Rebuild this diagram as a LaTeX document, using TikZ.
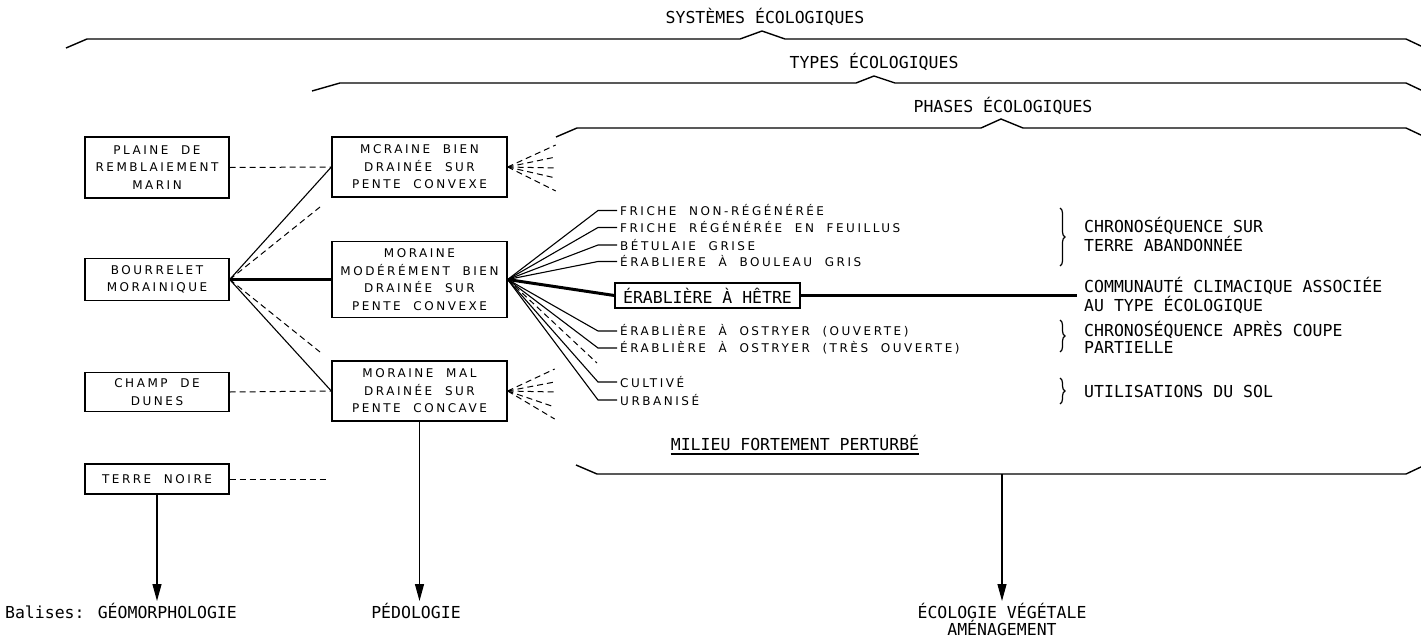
\documentclass[tikz,border=0pt]{standalone}
\usepackage{fontspec}
\setmainfont{DejaVu Sans}
\newfontfamily\plotfont{DejaVu Sans}[LetterSpace=21, WordSpace=2]
\newfontfamily\plotmono{DejaVu Sans Mono}
\usetikzlibrary{arrows.meta,decorations.pathreplacing}

\begin{document}
\begin{tikzpicture}[
		x=1pt, y=-1pt,
		boite/.style={draw, line width=1.3pt, rectangle, align=center, inner sep=0pt, font=\plotfont\fontsize{12}{17.5}\selectfont},
		gauche/.style={boite, minimum width=144pt},
		centre/.style={boite, minimum width=175pt},
		phase/.style={anchor=west, inner sep=3pt, font=\plotfont\fontsize{12}{17.5}\selectfont},
		note/.style={anchor=west, align=left, inner sep=0pt, font=\plotmono\fontsize{16.5}{17}\selectfont},
		titre/.style={inner sep=0pt, align=center, font=\plotmono\fontsize{16.5}{17}\selectfont},
		lien/.style={line width=1.1pt},
		fort/.style={line width=3pt},
		tiret/.style={line width=1pt, dash pattern=on 6pt off 4pt},
		fleche/.style={line width=1.2pt, -{Triangle[length=17pt,width=9pt]}},
		accolade/.style={line width=1.2pt, decorate, decoration={brace, amplitude=5pt}}
		]
		
		\useasboundingbox (0,0) rectangle (1421,640);
		
		\node[titre] (systemes) at (765,17) {SYSTÈMES ÉCOLOGIQUES};
		\node[titre] (types) at (874,62) {TYPES ÉCOLOGIQUES};
		\node[titre] (phases) at (1003,106) {PHASES ÉCOLOGIQUES};
		
		\draw[line width=1.4pt] (66,48) -- (87,39) -- (740,39) -- (762,31) -- (785,39) -- (1406,39) -- (1423,47);
		\draw[line width=1.4pt] (312,91) -- (340,83) -- (856,83) -- (874,76) -- (895,83) -- (1406,83) -- (1423,91);
		\draw[line width=1.4pt] (556,137) -- (577,128) -- (981,128) -- (1001,119) -- (1023,128) -- (1406,128) -- (1423,136);
		\draw[line width=1.4pt] (576,465) -- (597,474) -- (1406,474) -- (1423,466);
		
		\node[gauche, minimum height=61pt] (plaine) at (157,167.5) {PLAINE DE\\REMBLAIEMENT\\MARIN};
		\node[gauche, minimum height=42pt] (bourrelet) at (157,279.5) {BOURRELET\\MORAINIQUE};
		\node[gauche, minimum height=39pt] (champ) at (157,392) {CHAMP DE\\DUNES};
		\node[gauche, minimum height=30pt] (terre) at (157,479) {TERRE NOIRE};
		
		\node[centre, minimum height=60pt] (mcraine) at (419.5,167) {MCRAINE BIEN\\DRAINÉE SUR\\PENTE CONVEXE};
		\node[centre, minimum height=76pt] (moderement) at (419.5,279.5) {MORAINE\\MODÉRÉMENT BIEN\\DRAINÉE SUR\\PENTE CONVEXE};
		\node[centre, minimum height=60pt] (mal) at (419.5,391) {MORAINE MAL\\DRAINÉE SUR\\PENTE CONCAVE};
		
		\node[phase] (f1) at (617,210.5) {FRICHE NON-RÉGÉNÉRÉE};
		\node[phase] (f2) at (617,227.5) {FRICHE RÉGÉNÉRÉE EN FEUILLUS};
		\node[phase] (f3) at (617,245) {BÉTULAIE GRISE};
		\node[phase] (f4) at (617,261.5) {ÉRABLIERE À BOULEAU GRIS};
		\node[boite, font=\plotmono\fontsize{16.5}{17}\selectfont, minimum width=185pt, minimum height=25pt] (hetre) at (707.5,295.5) {ÉRABLIÈRE À HÊTRE};
		\node[phase] (o1) at (617,331) {ÉRABLIÈRE À OSTRYER (OUVERTE)};
		\node[phase] (o2) at (617,348) {ÉRABLIÈRE À OSTRYER (TRÈS OUVERTE)};
		\node[phase] (c1) at (617,382) {CULTIVÉ};
		\node[phase] (u1) at (617,400) {URBANISÉ};
		
		\node[note] (abandon) at (1084,234.5) {CHRONOSÉQUENCE SUR\\TERRE ABANDONNÉE};
		\node[note, inner xsep=7pt] (climax) at (1077,295.5) {COMMUNAUTÉ CLIMACIQUE ASSOCIÉE\\AU TYPE ÉCOLOGIQUE};
		\node[note] (coupe) at (1084,337.5) {CHRONOSÉQUENCE APRÈS COUPE\\PARTIELLE};
		\node[note] (sol) at (1084,391) {UTILISATIONS DU SOL};
		
		\node[titre] (perturbe) at (795,443) {MILIEU FORTEMENT PERTURBÉ};
		\draw[lien] ([yshift=-3pt]perturbe.south west) -- ([yshift=-3pt]perturbe.south east);
		
		\node[titre, anchor=north, inner ysep=2pt] (geo) at (121,601) {Balises: GÉOMORPHOLOGIE};
		\node[titre, anchor=north, inner ysep=2pt] (pedo) at (416,601) {PÉDOLOGIE};
		\node[titre, anchor=north, inner ysep=2pt] (eco) at (1002,601) {ÉCOLOGIE VÉGÉTALE\\AMÉNAGEMENT};
		
		\coordinate (haut) at (320,207);
		\coordinate (bas) at (320,352);
		\coordinate (noire) at (326,479);
		\coordinate (ostryer) at (597,363);
		\coordinate (phasebas) at (1002,474);
		
		\draw[tiret] (plaine.east) -- (mcraine.west);
		\draw[tiret] (champ.east) -- (mal.west);
		\draw[tiret] (terre.east) -- (noire);
		\draw[lien] (bourrelet.east) -- (mcraine.west);
		\draw[lien] (bourrelet.east) -- (mal.west);
		\draw[tiret] (bourrelet.east) -- (haut);
		\draw[tiret] (bourrelet.east) -- (bas);
		\draw[fort] (bourrelet.east) -- (moderement.west);
		
		\foreach \dy in {-22,-10,1,11,24}
		\draw[tiret] (mcraine.east) -- ++(48,\dy);
		\foreach \dy in {-22,-9,1,16,28}
		\draw[tiret] (mal.east) -- ++(47,\dy);
		
		\foreach \n in {f1,f2,f3,f4,o1,o2,c1,u1}
		\draw[lien] (moderement.east) -- ([xshift=-19pt]\n.west) -- (\n.west);
		\draw[tiret] (moderement.east) -- (ostryer);
		\draw[fort] (moderement.east) -- (hetre.west);
		\draw[line width=2.5pt] (hetre.east) -- (climax.west);
		
		\draw[accolade] (1060,208) -- (1060,266);
		\draw[accolade] (1060,320) -- (1060,352);
		\draw[accolade] (1060,378) -- (1060,404);
		
		\draw[fleche] (terre.south) -- (terre.south |- geo.north);
		\draw[fleche] (mal.south) -- (mal.south |- pedo.north);
		\draw[fleche] (phasebas) -- (eco.north);
		
	\end{tikzpicture}
\end{document}
